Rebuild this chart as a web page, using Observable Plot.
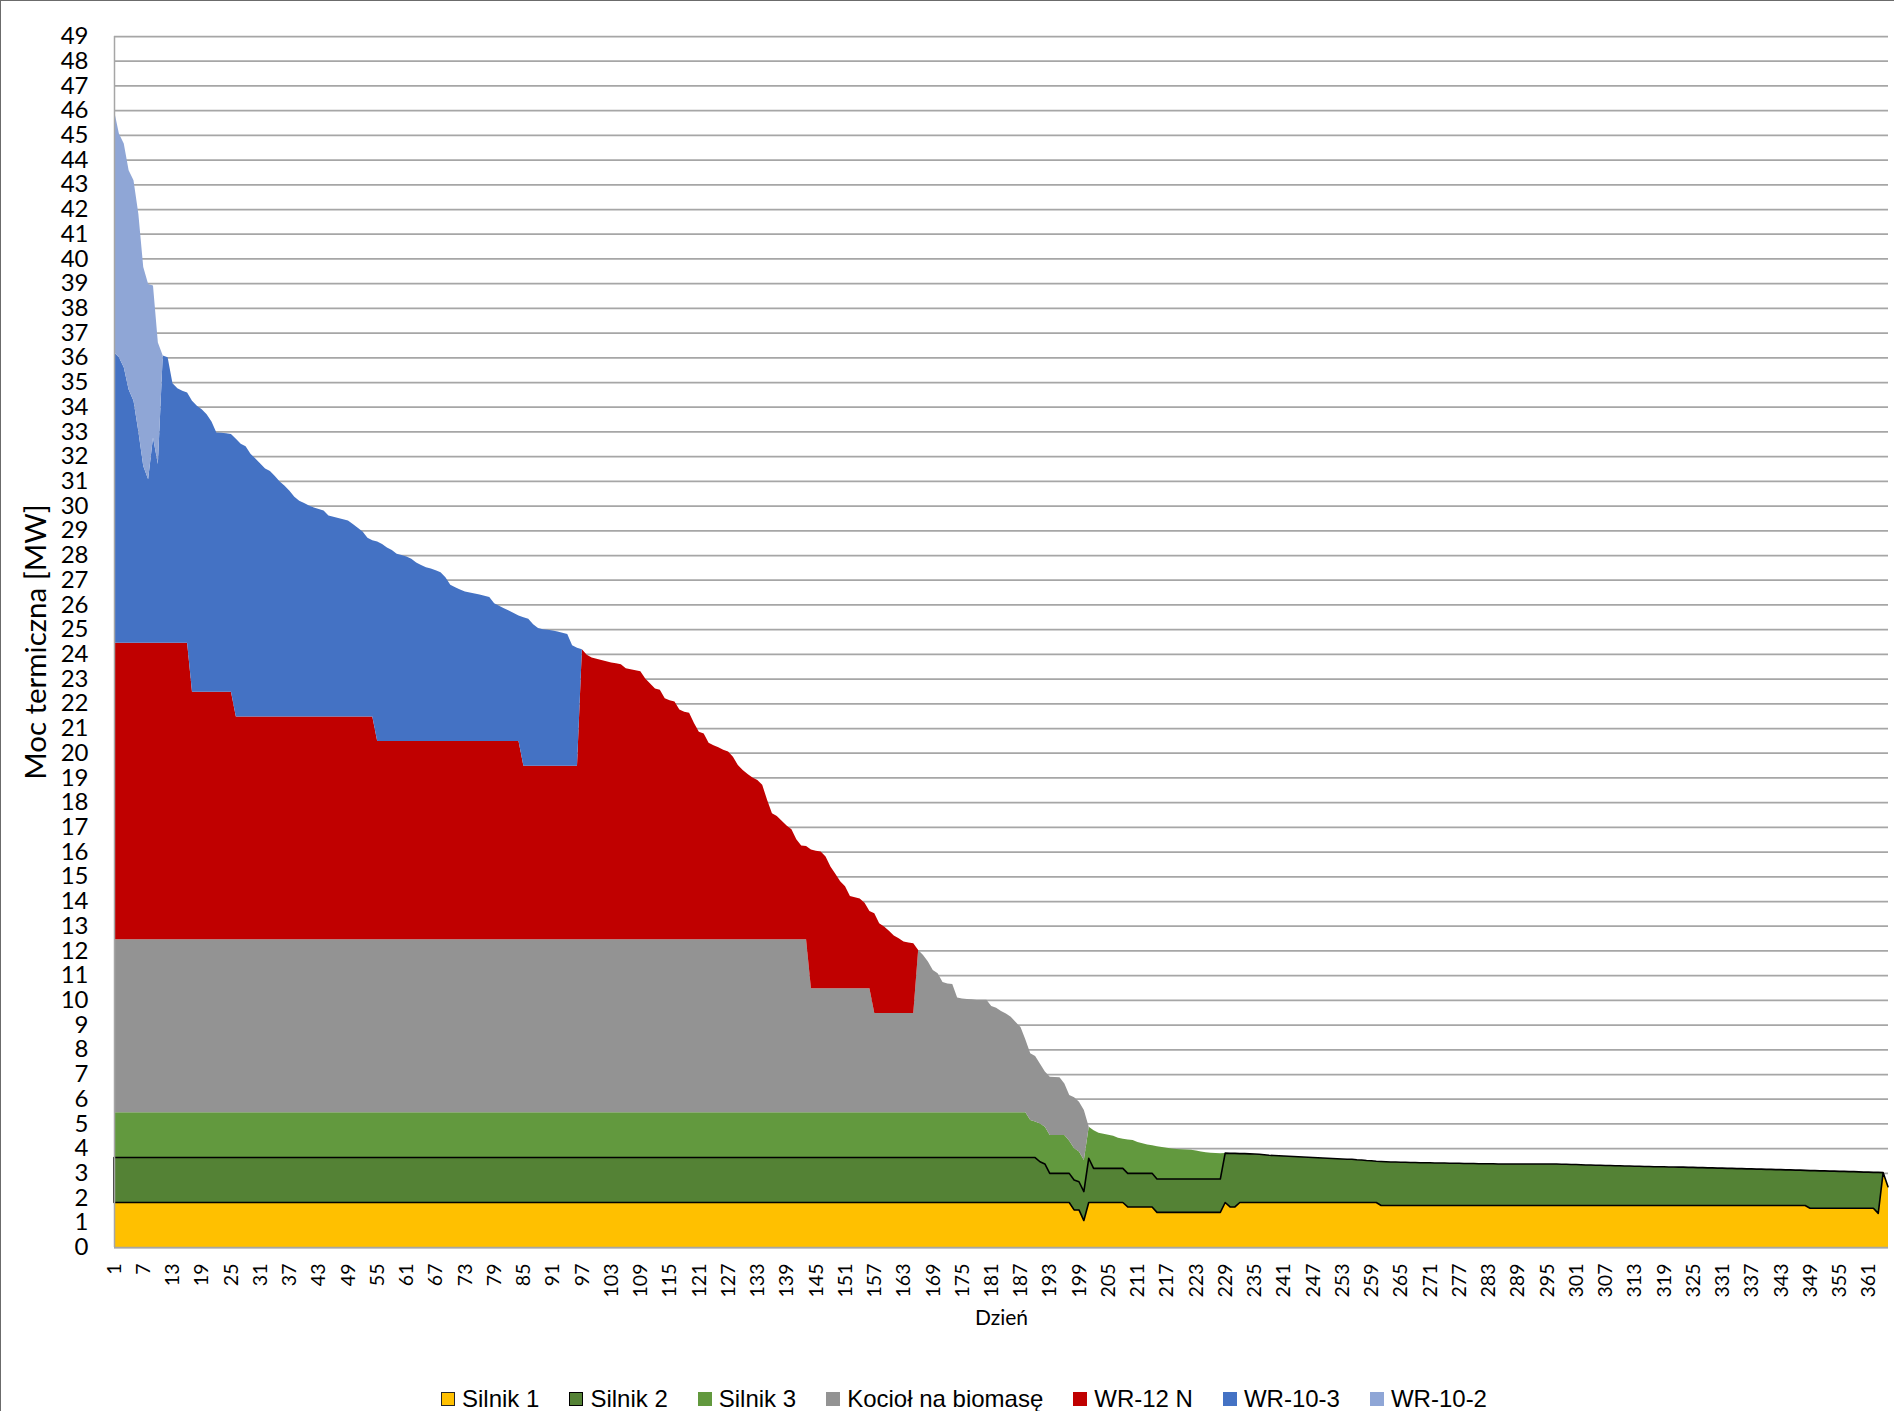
<!DOCTYPE html>
<html>
<head>
<meta charset="utf-8">
<script src="https://cdn.jsdelivr.net/npm/d3@7"></script>
<script src="https://cdn.jsdelivr.net/npm/@observablehq/plot@0.6"></script>
<style>
html, body { margin: 0; padding: 0; background: #fff; overflow: hidden; }
#wrap { position: relative; width: 1894px; height: 1411px; background: #fff; }
#frame { position: absolute; left: 0; top: 0; width: 1894px; height: 1411px; box-sizing: border-box;
  border-left: 1px solid #6b6b6b; border-top: 1px solid #6b6b6b; pointer-events: none; }
#legend { position: absolute; top: 1386px; left: 0; width: 1894px; padding-left: 34px; box-sizing: border-box;
  display: flex; justify-content: center; gap: 30px;
  font-family: "Liberation Sans", Arial, sans-serif; font-size: 24px; line-height: 26px; color: #000; }
.item { display: flex; align-items: center; gap: 7px; white-space: nowrap; }
.sw { width: 14px; height: 14px; box-sizing: border-box; }
</style>
</head>
<body>
<div id="wrap">
  <div id="chart"></div>
  <div id="legend"></div>
  <div id="frame"></div>
</div>
<script>
// ---- categories / labels ----
const seriesNames = ["Silnik 1", "Silnik 2", "Silnik 3", "Kocioł na biomasę", "WR-12 N", "WR-10-3", "WR-10-2"];
const seriesColors = ["#ffc000", "#548235", "#62993e", "#939393", "#c00000", "#4472c4", "#8fa6d6"];
const xTickDays = [1,7,13,19,25,31,37,43,49,55,61,67,73,79,85,91,97,103,109,115,121,127,133,139,145,151,157,163,169,175,181,187,193,199,205,211,217,223,229,235,241,247,253,259,265,271,277,283,289,295,301,307,313,319,325,331,337,343,349,355,361];
const yTickValues = [0,1,2,3,4,5,6,7,8,9,10,11,12,13,14,15,16,17,18,19,20,21,22,23,24,25,26,27,28,29,30,31,32,33,34,35,36,37,38,39,40,41,42,43,44,45,46,47,48,49];
const yTitle = "Moc termiczna [MW]";
const xTitle = "Dzień";
const dayCount = 365;

// ---- series values per day (number = one day, [value, n] = value held for n days) ----
const silnik1 = [[1.8,197], 1.5, 1.5, 1.07, [1.8,8], [1.62,6], [1.4,14], 1.8, [1.62,2], [1.8,29], [1.68,88], [1.57,14], 1.36, 3.01, 2.44];

const silnik2 = [[1.82,190], 1.65, 1.56, [1.18,5], 1.21, 1.14, 1.17, 1.79, [1.38,7], [1.36,6], [1.35,14],
  2.00, 2.17, 2.17, 1.98, 1.98, 1.97, 1.96, 1.95, 1.93, 1.91, 1.90, 1.89, 1.88, 1.87, 1.86, 1.85,
  1.84, 1.83, 1.82, 1.81, 1.80, 1.79, 1.78, 1.77, 1.76, 1.75, 1.75, 1.73, 1.72, 1.70, 1.69, 1.67,
  1.78, 1.77, 1.76, 1.76, 1.75, 1.75, 1.74, 1.74, 1.73, 1.73, 1.73, 1.72, 1.72, 1.72, 1.71, 1.71,
  1.71, 1.70, 1.70, 1.70, 1.69, 1.69, 1.69, 1.69, 1.68, 1.68, 1.68, 1.68,
  [1.68,9],
  1.67, 1.67, 1.66, 1.66, 1.65, 1.64, 1.64, 1.63, 1.63, 1.62, 1.62, 1.61, 1.61, 1.60, 1.60, 1.59,
  1.59, 1.58, 1.58, 1.57, 1.57, 1.57,
  1.56, 1.56, 1.55, 1.55, 1.54, 1.54, 1.53, 1.53, 1.52, 1.52, 1.51, 1.51, 1.50, 1.50, 1.49, 1.49,
  1.48, 1.48, 1.47, 1.47, 1.46, 1.46, 1.45, 1.45, 1.44, 1.44, 1.43, 1.43, 1.42,
  1.52, 1.52, 1.51, 1.51, 1.50, 1.50, 1.49, 1.49, 1.48, 1.48, 1.47, 1.46, 1.46, 1.45, 1.66,
  0, 0];

const silnik3 = [[1.83,188], 1.52, 1.46, 1.55, 1.51, [1.55,4], 1.32, 1.29, 1.22, 1.28,
  1.28, 1.54, 1.44, 1.40, 1.36, 1.32, 1.24, 1.20, 1.37, 1.35, 1.27, 1.22, 1.17, 1.14,
  1.33, 1.30, 1.27, 1.24, 1.22, 1.21, 1.20, 1.18, 1.15, 1.11, 1.08, 1.06, 1.05, 1.04,
  [0,137]];

const kociol = [[7.0,143], [5.02,13], [4.02,9],
  6.57, 6.37, 6.10, 5.76, 5.63, 5.27, 5.21, 5.19, 4.65, 4.60, 4.58, 4.57, 4.55, 4.55, 4.55,
  4.30, 4.23, 4.10, 4.00, 3.87, 3.65, 3.45, 2.95,
  2.70, 2.65, 2.41, 2.23, 2.36, 2.35, 2.34, 2.09, 1.85, 2.06, 2.02, 2.02,
  [0,165]];

const wr12n = [[12.0,16], [10.02,9], [9.02,29], [8.02,30], [7.02,12],
  11.74, 11.51, 11.40, 11.35, 11.30, 11.25, 11.20, 11.17, 11.13, 10.97, 10.93, 10.89, 10.85,
  10.55, 10.35, 10.15, 10.10, 9.75, 9.67, 9.62, 9.30, 9.21, 9.17, 8.75, 8.40, 8.33,
  7.95, 7.85, 7.77, 7.67, 7.60, 7.39, 7.05, 6.85, 6.69, 6.55, 6.45, 6.25,
  5.65, 5.10, 4.99, 4.80, 4.60, 4.45, 4.05, 3.80, 3.78,
  5.61, 5.56, 5.53, 5.33, 4.93, 4.63, 4.33, 4.13, 3.73, 3.68, 3.63, 3.46, 3.13,
  4.03, 3.63, 3.50, 3.33, 3.13, 3.02, 2.89, 2.85, 2.82,
  [0,200]];

const wr103 = [11.75, 11.55, 11.15, 10.25, 9.79, 8.55, 7.15, 6.62, 8.30, 7.23,
  11.62, 11.55, 10.50, 10.30, 10.20, 10.13,
  11.77, 11.57, 11.43, 11.23, 10.93, 10.49, 10.48, 10.46, 10.43,
  11.23, 11.03, 10.93, 10.63, 10.43, 10.23, 10.03, 9.93, 9.73, 9.50, 9.33, 9.13, 8.89, 8.73,
  8.63, 8.53, 8.45, 8.39, 8.33, 8.13, 8.08, 8.03, 7.98, 7.93, 7.78, 7.63, 7.48, 7.23, 7.13,
  8.08, 7.98, 7.83, 7.73, 7.58, 7.53, 7.47, 7.38, 7.23, 7.13, 7.03, 6.98, 6.91, 6.83, 6.63,
  6.33, 6.23, 6.13, 6.05, 6.01, 5.97, 5.93, 5.88, 5.83, 5.58, 5.48, 5.38, 5.28, 5.18, 5.08,
  6.01, 5.95, 5.73, 5.58, 5.53, 5.51, 5.48, 5.43, 5.38, 5.33, 4.88, 4.78,
  [0,269]];

const wr102 = [9.80, 9.05, 9.05, 8.87, 8.92, 8.80, 8.05, 7.90, 6.15, 4.92, [0,355]];

// ---- build table ----
function expand(runs) {
  const out = [];
  for (const r of runs) {
    if (Array.isArray(r)) { for (let i = 0; i < r[1]; i++) out.push(r[0]); }
    else out.push(r);
  }
  return out;
}
const seriesValues = [silnik1, silnik2, silnik3, kociol, wr12n, wr103, wr102].map(expand);
seriesValues.forEach((a, k) => { if (a.length !== dayCount) console.warn(seriesNames[k], a.length); });

const days = d3.range(1, dayCount + 1);
const rows = [];
days.forEach((day, i) => {
  let acc = 0;
  seriesNames.forEach((name, k) => {
    const v = seriesValues[k][i] || 0;
    rows.push({day, series: name, y1: acc, y2: acc + v});
    acc += v;
  });
});

const axisGray = "#a6a6a6";
const chart = Plot.plot({
  width: 1894,
  height: 1360,
  marginLeft: 114,
  marginRight: 6,
  marginTop: 36,
  marginBottom: 113,
  x: {domain: [1, dayCount]},
  y: {domain: [0, 49]},
  color: {domain: seriesNames, range: seriesColors},
  style: {fontFamily: "Lato, 'Open Sans', sans-serif", fontSize: "19px", color: "#000", background: "#fff"},
  marks: [
    Plot.gridY(yTickValues, {stroke: axisGray, strokeOpacity: 1, strokeWidth: 1.75}),
    Plot.areaY(rows, {x: "day", y1: "y1", y2: "y2", z: "series", fill: "series"}),
    Plot.areaY(rows.filter(d => d.series === "Silnik 2"), {x: "day", y1: "y1", y2: "y2", fill: "none", stroke: "#000", strokeWidth: 1.6}),
    Plot.ruleX([1], {stroke: axisGray, strokeWidth: 1.5}),
    Plot.ruleY([0], {stroke: axisGray, strokeWidth: 1.5}),
    Plot.axisY(yTickValues, {tickSize: 0, tickPadding: 26, fontSize: 24, label: null}),
    Plot.axisX(xTickDays, {tickSize: 0, tickRotate: -90, tickPadding: 16, fontSize: 19.5, label: null}),
    Plot.text([yTitle], {frameAnchor: "left", textAnchor: "middle", lineAnchor: "middle", rotate: -90, dx: -78, fontSize: 29.5, text: d => d}),
    Plot.text([xTitle], {frameAnchor: "bottom", textAnchor: "middle", lineAnchor: "middle", dy: 71, fontSize: 21, text: d => d})
  ]
});
document.getElementById("chart").appendChild(chart);

// ---- legend ----
const legendOutline = ["#262626", "#000", null, null, null, null, null];
const legend = document.getElementById("legend");
seriesNames.forEach((name, k) => {
  const item = document.createElement("div");
  item.className = "item";
  const sw = document.createElement("div");
  sw.className = "sw";
  sw.style.background = seriesColors[k];
  if (legendOutline[k]) sw.style.border = "1.5px solid " + legendOutline[k];
  const label = document.createElement("span");
  label.textContent = name;
  item.appendChild(sw);
  item.appendChild(label);
  legend.appendChild(item);
});
</script>
</body>
</html>
